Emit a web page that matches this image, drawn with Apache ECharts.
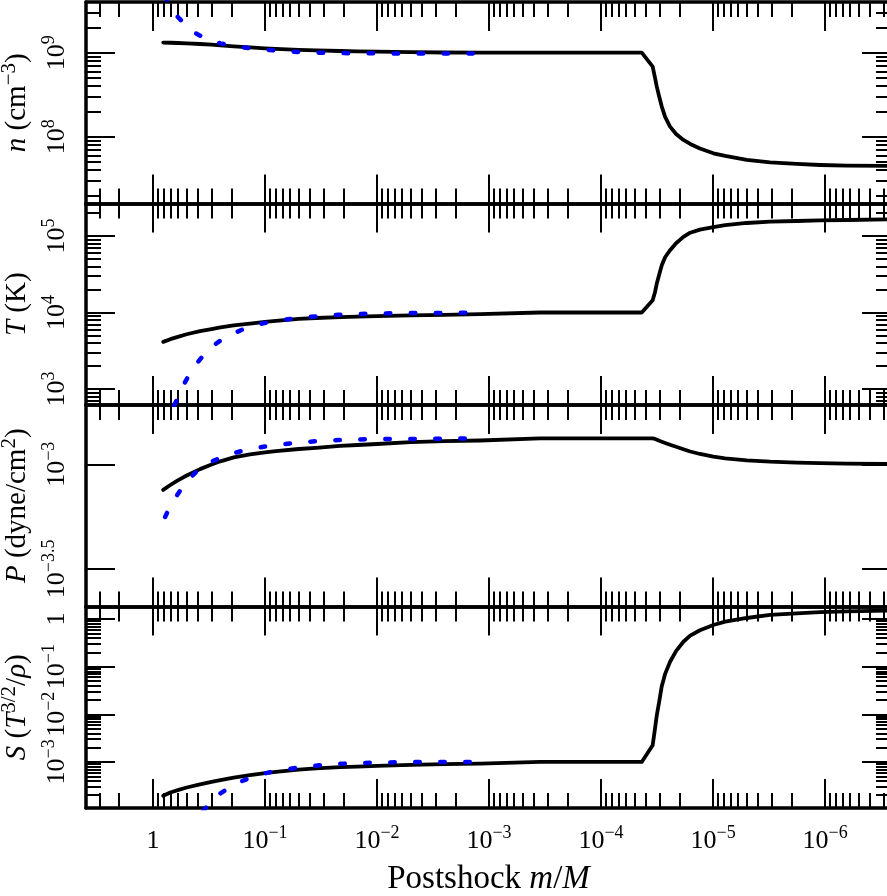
<!DOCTYPE html>
<html><head><meta charset="utf-8">
<script src="https://cdn.jsdelivr.net/npm/echarts@6/dist/echarts.min.js"></script>
<style>html,body{margin:0;padding:0;background:#fff}#c{width:887px;height:896px}</style>
</head><body><div id="c"></div>
<script>
// ---------------- data ----------------
const mBlack = [0.81, 0.7, 0.6, 0.5, 0.38, 0.3, 0.25, 0.19, 0.136, 0.1, 0.08, 0.05, 0.035, 0.0214, 0.015, 0.01, 5e-3, 2.5e-3, 1.2e-3, 3.5e-4, 4.33e-5, 3.46e-5, 3.3e-5, 3.18e-5, 3.02e-5, 2.87e-5, 2.68e-5, 2.42e-5, 2.14e-5, 1.84e-5, 1.6e-5, 1.31e-5, 9.93e-6, 7.8e-6, 5e-6, 3.1e-6, 1.79e-6, 1.11e-6, 6.4e-7, 2.5e-7];
const nBlack = [1.32e9, 1.312e9, 1.303e9, 1.288e9, 1.268e9, 1.247e9, 1.222e9, 1.189e9, 1.153e9, 1.127e9, 1.112e9, 1.081e9, 1.067e9, 1.047e9, 1.038e9, 1.026e9, 1.014e9, 1.005e9, 1.0e9, 1.0e9, 1.0e9, 6.81e8, 5.04e8, 3.94e8, 2.97e8, 2.28e8, 1.72e8, 1.315e8, 1.077e8, 9.14e7, 8.19e7, 7.24e7, 6.34e7, 5.89e7, 5.28e7, 4.94e7, 4.73e7, 4.6e7, 4.52e7, 4.47e7];
const TBlack = [4.13e3, 4.48e3, 4.81e3, 5.2e3, 5.7e3, 6.08e3, 6.38e3, 6.78e3, 7.18e3, 7.55e3, 7.79e3, 8.25e3, 8.48e3, 8.71e3, 8.84e3, 8.95e3, 9.17e3, 9.33e3, 9.5e3, 1.0e4, 1.0e4, 1.45e4, 1.84e4, 2.39e4, 3.17e4, 4.15e4, 5.28e4, 6.52e4, 8.05e4, 9.73e4, 1.104e5, 1.21e5, 1.31e5, 1.39e5, 1.48e5, 1.54e5, 1.57e5, 1.6e5, 1.62e5, 1.65e5];
const PBlack = [7.54e-4, 7.96e-4, 8.38e-4, 8.84e-4, 9.48e-4, 9.97e-4, 1.033e-3, 1.078e-3, 1.116e-3, 1.141e-3, 1.155e-3, 1.183e-3, 1.199e-3, 1.223e-3, 1.236e-3, 1.25e-3, 1.275e-3, 1.289e-3, 1.299e-3, 1.331e-3, 1.331e-3, 1.331e-3, 1.322e-3, 1.31e-3, 1.295e-3, 1.282e-3, 1.264e-3, 1.239e-3, 1.212e-3, 1.179e-3, 1.151e-3, 1.12e-3, 1.087e-3, 1.068e-3, 1.044e-3, 1.029e-3, 1.019e-3, 1.012e-3, 1.008e-3, 1.002e-3];
const SBlack = [1.95e-4, 2.29e-4, 2.56e-4, 2.91e-4, 3.39e-4, 3.8e-4, 4.17e-4, 4.7e-4, 5.28e-4, 5.82e-4, 6.18e-4, 6.93e-4, 7.32e-4, 7.76e-4, 8.01e-4, 8.25e-4, 8.66e-4, 8.97e-4, 9.26e-4, 1.0e-3, 1.0e-3, 2.24e-3, 4.95e-3, 9.5e-3, 0.019, 0.039, 0.0705, 0.127, 0.212, 0.333, 0.448, 0.581, 0.748, 0.88, 1.05, 1.22, 1.315, 1.39, 1.443, 1.5];

const mBlue = [0.78, 0.72, 0.66, 0.6, 0.54, 0.48, 0.42, 0.36, 0.3, 0.25, 0.2, 0.16, 0.13, 0.1, 0.08, 0.06, 0.045, 0.032, 0.022, 0.015, 0.01, 0.0065, 0.004, 0.0025, 0.0014];
const nBlue = [4.8e9, 3.8e9, 3.18e9, 2.66e9, 2.3e9, 1.96e9, 1.71e9, 1.54e9, 1.39e9, 1.29e9, 1.21e9, 1.16e9, 1.125e9, 1.086e9, 1.059e9, 1.033e9, 1.014e9, 0.997e9, 0.989e9, 0.984e9, 0.981e9, 0.978e9, 0.976e9, 0.975e9, 0.975e9];
const TBlue = [307, 415, 570, 770, 1.09e3, 1.5e3, 2.03e3, 2.68e3, 3.54e3, 4.3e3, 5.17e3, 5.96e3, 6.64e3, 7.31e3, 7.77e3, 8.2e3, 8.63e3, 9.0e3, 9.33e3, 9.53e3, 9.7e3, 9.79e3, 9.85e3, 9.88e3, 9.91e3];
const PBlue = [5.6e-4, 6.11e-4, 6.64e-4, 7.21e-4, 7.79e-4, 8.46e-4, 9.09e-4, 9.74e-4, 1.028e-3, 1.074e-3, 1.121e-3, 1.159e-3, 1.187e-3, 1.216e-3, 1.236e-3, 1.258e-3, 1.276e-3, 1.293e-3, 1.305e-3, 1.313e-3, 1.319e-3, 1.321e-3, 1.323e-3, 1.326e-3, 1.33e-3];
const SBlue = [1.1e-6, 2.2e-6, 4.3e-6, 8.0e-6, 1.56e-5, 2.96e-5, 5.35e-5, 9.0e-5, 1.52e-4, 2.19e-4, 3.07e-4, 3.97e-4, 4.81e-4, 5.76e-4, 6.47e-4, 7.19e-4, 7.91e-4, 8.56e-4, 9.11e-4, 9.45e-4, 9.7e-4, 9.85e-4, 9.95e-4, 1.0e-3, 1.0e-3];

// ---------------- ticks & labels ----------------
const xMajor = [1, 1e-1, 1e-2, 1e-3, 1e-4, 1e-5, 1e-6];
const xMajorLabels = ['1', '10^−1', '10^−2', '10^−3', '10^−4', '10^−5', '10^−6'];
const nMajor = [1e8, 1e9];
const nMajorLabels = ['10^8', '10^9'];
const TMajor = [1e3, 1e4, 1e5];
const TMajorLabels = ['10^3', '10^4', '10^5'];
const PMajor = [1e-3, 3.1622776601683794e-4];
const PMajorLabels = ['10^−3', '10^−3.5'];
const SMajor = [1e-3, 1e-2, 1e-1, 1];
const SMajorLabels = ['10^−3', '10^−2', '10^−1', '1'];

const xLimits = [2.58e-7, 3.96];
const nLimits = [1.6e7, 4.01e9];
const TLimits = [618, 2.66e5];
const PLimits = [2.09e-4, 1.92e-3];
const SLimits = [1.08e-4, 1.83];

const xName = '{b|Postshock }{i|m}{b|/}{i|M}';
const yNames = [
  '{i|n}{b| (cm}{s|−3}{b|)}',
  '{i|T}{b| (K)}',
  '{i|P}{b| (dyne/cm}{s|2}{b|)}',
  '{i|S}{b| (}{i|T}{s|3/2}{b|/}{i|ρ}{b|)}'
];

// ---------------- helpers ----------------
const FONT = 'Liberation Serif';
function minorTicks(lim) {
  const out = [];
  const lo = lim[0], hi = lim[1];
  for (let e = Math.floor(Math.log10(lo)) - 1; e <= Math.ceil(Math.log10(hi)); e++) {
    for (let k = 2; k <= 9; k++) {
      const v = k * Math.pow(10, e);
      if (v >= lo && v <= hi) out.push(v);
    }
  }
  return out;
}
function toRich(s) {
  const i = s.indexOf('^');
  if (i < 0) return '{b|' + s + '}';
  return '{b|' + s.slice(0, i) + '}{s|' + s.slice(i + 1) + '}';
}
function labelFormatter(majors, labels) {
  return function (v) {
    const lv = Math.log10(v);
    let best = 0, bd = 1e9;
    majors.forEach(function (m, i) { const d = Math.abs(Math.log10(m) - lv); if (d < bd) { bd = d; best = i; } });
    return toRich(labels[best]);
  };
}
const tickRich = {
  b: { fontSize: 26, fontFamily: FONT, lineHeight: 30, verticalAlign: 'bottom', color: '#000' },
  s: { fontSize: 18, fontFamily: FONT, lineHeight: 18, verticalAlign: 'top', color: '#000' }
};
const nameRich = {
  b: { fontSize: 29, fontFamily: FONT, lineHeight: 33, verticalAlign: 'bottom', color: '#000' },
  i: { fontSize: 29, fontFamily: FONT, fontStyle: 'italic', lineHeight: 33, verticalAlign: 'bottom', color: '#000' },
  s: { fontSize: 21, fontFamily: FONT, lineHeight: 20, verticalAlign: 'top', color: '#000' }
};
const xNameRich = {
  b: { fontSize: 33, fontFamily: FONT, lineHeight: 38, color: '#000' },
  i: { fontSize: 33, fontFamily: FONT, fontStyle: 'italic', lineHeight: 38, color: '#000' }
};

const MAJOR_LEN = 29, MINOR_LEN = 15;
function baseAxis(type, gi, pos, lim, ticks, len, line, extra) {
  const ax = {
    type: 'log', logBase: 10, gridIndex: gi, position: pos, min: lim[0], max: lim[1],
    axisLine: { show: line, onZero: false, lineStyle: { color: '#000', width: 3.5 } },
    axisTick: { show: ticks.length > 0, inside: true, length: len, customValues: ticks, lineStyle: { color: '#000', width: 2 } },
    axisLabel: { show: false },
    splitLine: { show: false },
    minorTick: { show: false },
    minorSplitLine: { show: false },
    axisPointer: { show: false }
  };
  if (type === 'x') ax.inverse = true;
  return Object.assign(ax, extra || {});
}

const gridTops = [2, 203.5, 405, 606.5];
const gridH = 201.5;
const panels = [
  { lim: nLimits, major: nMajor, labels: nMajorLabels, minor: minorTicks(nLimits), black: nBlack, blue: nBlue },
  { lim: TLimits, major: TMajor, labels: TMajorLabels, minor: minorTicks(TLimits), black: TBlack, blue: TBlue },
  { lim: PLimits, major: PMajor, labels: PMajorLabels, minor: [], black: PBlack, blue: PBlue },
  { lim: SLimits, major: SMajor, labels: SMajorLabels, minor: minorTicks(SLimits), black: SBlack, blue: SBlue }
];
const xMinor = minorTicks(xLimits);

const grids = [], xAxes = [], yAxes = [], series = [];
panels.forEach(function (p, gi) {
  grids.push({ left: 86, right: -4, top: gridTops[gi], height: gridH, containLabel: false, outerBoundsMode: 'none' });
  const last = gi === panels.length - 1;
  xAxes.push(baseAxis('x', gi, 'bottom', xLimits, xMajor, MAJOR_LEN, true, last ? {
    axisLabel: { show: true, customValues: xMajor, margin: 16, formatter: labelFormatter(xMajor, xMajorLabels), rich: tickRich },
    name: xName, nameLocation: 'middle', nameGap: 52, nameTextStyle: { rich: xNameRich }
  } : {}));
  xAxes.push(baseAxis('x', gi, 'bottom', xLimits, xMinor, MINOR_LEN, false));
  xAxes.push(baseAxis('x', gi, 'top', xLimits, xMajor, MAJOR_LEN, true));
  xAxes.push(baseAxis('x', gi, 'top', xLimits, xMinor, MINOR_LEN, false));
  yAxes.push(baseAxis('y', gi, 'left', p.lim, p.major, MAJOR_LEN, true, {
    axisLabel: { show: true, customValues: p.major, rotate: 90, margin: 16, formatter: labelFormatter(p.major, p.labels), rich: tickRich },
    name: yNames[gi], nameLocation: 'middle', nameGap: 47, nameTextStyle: { rich: nameRich }
  }));
  yAxes.push(baseAxis('y', gi, 'left', p.lim, p.minor, MINOR_LEN, false));
  yAxes.push(baseAxis('y', gi, 'right', p.lim, p.major, MAJOR_LEN, true));
  yAxes.push(baseAxis('y', gi, 'right', p.lim, p.minor, MINOR_LEN, false));

  series.push({
    type: 'line', xAxisIndex: 4 * gi, yAxisIndex: 4 * gi, showSymbol: false, symbol: 'none', clip: true, z: 3,
    data: mBlack.map(function (m, i) { return [m, p.black[i]]; }),
    lineStyle: { color: '#000', width: 3.8, cap: 'round', join: 'round' }
  });
  series.push({
    type: 'line', xAxisIndex: 4 * gi, yAxisIndex: 4 * gi, showSymbol: false, symbol: 'none', clip: true, z: 4,
    data: mBlue.map(function (m, i) { return [m, p.blue[i]]; }),
    lineStyle: { color: '#0000ff', width: 4.5, type: [4.5, 20.5], cap: 'round', join: 'round' }
  });
});

const chart = echarts.init(document.getElementById('c'), null, { renderer: 'canvas' });
chart.setOption({
  animation: false,
  backgroundColor: '#fff',
  textStyle: { fontFamily: FONT, color: '#000' },
  grid: grids,
  xAxis: xAxes,
  yAxis: yAxes,
  series: series
});
</script></body></html>
